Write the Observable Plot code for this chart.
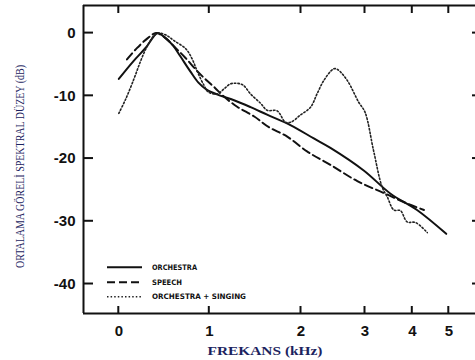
<!DOCTYPE html>
<html><head><meta charset="utf-8">
<script src="https://cdn.jsdelivr.net/npm/d3@7"></script>
<script src="https://cdn.jsdelivr.net/npm/@observablehq/plot@0.6"></script>
<style>body{margin:0;background:#fff}#chart{width:475px;height:360px;overflow:hidden}</style>
</head><body><div id="chart"></div>
<script>
// Tick values
const xTicks = [0, 1, 2, 3, 4, 5];
const yTicks = [-40, -30, -20, -10, 0];
const xLabel = "FREKANS (kHz)";
const yLabel = "ORTALAMA GÖRELİ SPEKTRAL DÜZEY (dB)";
const seriesNames = ["ORCHESTRA", "SPEECH", "ORCHESTRA + SINGING"];

// Series: [frequency kHz, level dB]
const orchestra = [[0,-7.3],[0.16,-4.5],[0.3,-2.3],[0.43,0],[0.5,-0.6],[0.6,-2.0],[0.68,-3.7],[0.79,-6.1],[0.88,-7.9],[0.97,-9.0],[1.09,-9.8],[1.27,-10.7],[1.45,-11.8],[1.63,-13.0],[1.89,-14.7],[2.2,-16.8],[2.46,-18.3],[2.98,-21.9],[3.54,-25.6],[4.13,-28.2],[4.93,-32.0]];
const speech = [[0.09,-4.2],[0.2,-2.4],[0.32,-0.8],[0.41,0],[0.5,-0.6],[0.63,-2.4],[0.74,-4.0],[0.85,-5.8],[0.96,-7.4],[1.06,-8.7],[1.15,-10.0],[1.3,-11.7],[1.49,-13.3],[1.65,-15.0],[1.85,-16.5],[2.1,-18.9],[2.46,-21.0],[2.88,-23.6],[3.4,-25.5],[3.9,-27.2],[4.32,-28.2]];
const orchSinging = [[0,-12.8],[0.08,-10.4],[0.17,-7.2],[0.24,-4.5],[0.31,-2.2],[0.39,-0.4],[0.44,0],[0.52,-0.3],[0.61,-1.2],[0.74,-2.5],[0.81,-4.1],[0.87,-6.2],[0.94,-8.3],[0.99,-9.4],[1.09,-9.7],[1.16,-8.9],[1.23,-8.1],[1.3,-8.0],[1.37,-8.3],[1.45,-9.7],[1.56,-11.2],[1.63,-12.3],[1.74,-12.4],[1.83,-14.2],[1.89,-14.2],[1.99,-13.1],[2.15,-11.8],[2.25,-9.7],[2.36,-7.5],[2.51,-5.7],[2.57,-5.8],[2.72,-7.5],[2.9,-11.0],[3.0,-12.6],[3.18,-18.7],[3.36,-24.5],[3.47,-26.1],[3.61,-28.2],[3.75,-28.3],[3.89,-30.1],[4.09,-30.2],[4.41,-31.8]];

// Non-uniform frequency axis (piecewise)
const xDomain = [-0.39, 0, 1, 2, 3, 4, 5, 5.81];
const xRange = [83, 118.3, 208.8, 300.5, 364.5, 411.8, 448.3, 478];
const yDomain = [-44.7, 4.4];

const W = 475, H = 360, ML = 83, MR = 0, MT = 5, MB = 47;

const lineStyle = {x: d => d[0], y: d => d[1], curve: "catmull-rom"};
const dotDash = "1.5,2.1";

const svg = Plot.plot({
  width: W, height: H,
  marginLeft: ML, marginRight: MR, marginTop: MT, marginBottom: MB,
  style: {fontFamily: "'Liberation Sans', Arial, sans-serif", fontSize: "15px", fontWeight: "bold", background: "#fff", color: "#111"},
  x: {type: "linear", domain: xDomain, range: xRange, label: null},
  y: {domain: yDomain, label: null},
  marks: [
    Plot.axisX({anchor: "bottom", ticks: xTicks, tickSize: 0, tickPadding: 12, tickFormat: d => String(d), label: null}),
    Plot.axisY({anchor: "left", ticks: yTicks, tickSize: 0, tickPadding: 8, tickFormat: d => String(d), label: null}),
    // frame
    Plot.ruleY([yDomain[0], yDomain[1]], {stroke: "#111", strokeWidth: 2}),
    Plot.ruleX([xDomain[0]], {stroke: "#111", strokeWidth: 2}),
    Plot.line(orchestra, {...lineStyle, stroke: "#111", strokeWidth: 2}),
    Plot.line(speech, {...lineStyle, stroke: "#111", strokeWidth: 2, strokeDasharray: "8,4"}),
    Plot.line(orchSinging, {...lineStyle, stroke: "#222", strokeWidth: 1.6, strokeDasharray: dotDash})
  ]
});

const s = d3.select(svg);
// Inward tick marks placed with the plot's own scales
const sxObj = svg.scale && svg.scale("x");
const syObj = svg.scale && svg.scale("y");
const sx = sxObj && sxObj.apply ? sxObj.apply : d3.scaleLinear(xDomain, xRange);
const sy = syObj && syObj.apply ? syObj.apply : d3.scaleLinear(yDomain, [H - MB, MT]);
const xLeft = sx(xDomain[0]), xRight = sx(xDomain[xDomain.length - 1]);
const yBottom = sy(yDomain[0]), yTop = sy(yDomain[1]);
const tg = s.append("g").attr("stroke", "#111").attr("stroke-width", 2);
xTicks.forEach(t => {
  const x = sx(t);
  tg.append("line").attr("x1", x).attr("x2", x).attr("y1", yBottom).attr("y2", yBottom - 7);
  tg.append("line").attr("x1", x).attr("x2", x).attr("y1", yTop).attr("y2", yTop + 8);
});
yTicks.forEach(t => {
  const y = sy(t);
  tg.append("line").attr("x1", xLeft).attr("x2", xLeft + 10).attr("y1", y).attr("y2", y);
  tg.append("line").attr("x1", xRight).attr("x2", xRight - 6).attr("y1", y).attr("y2", y);
});

// Axis titles
s.append("text")
  .attr("transform", "translate(20,166.5) rotate(-90)")
  .attr("text-anchor", "middle").attr("dominant-baseline", "central")
  .attr("font-family", "'Liberation Serif', 'DejaVu Serif', serif")
  .attr("font-size", 12).attr("font-weight", "normal")
  .attr("fill", "#1c2360")
  .attr("textLength", 203).attr("lengthAdjust", "spacingAndGlyphs")
  .text(yLabel);
s.append("text")
  .attr("x", 265).attr("y", 350)
  .attr("text-anchor", "middle").attr("dominant-baseline", "central")
  .attr("font-family", "'Liberation Serif', 'DejaVu Serif', serif")
  .attr("font-size", 13).attr("font-weight", "bold")
  .attr("fill", "#1c2360")
  .attr("textLength", 115).attr("lengthAdjust", "spacingAndGlyphs")
  .text(xLabel);

// Legend
const legendDash = [null, "8,4", dotDash];
const legendWidth = [2, 2, 1.6];
const legendLen = [45, 30, 94];
const legendY = [267.3, 282.3, 296.7];
seriesNames.forEach((name, i) => {
  s.append("line").attr("x1", 107).attr("x2", 142).attr("y1", legendY[i]).attr("y2", legendY[i])
    .attr("stroke", i === 2 ? "#222" : "#111").attr("stroke-width", legendWidth[i])
    .attr("stroke-dasharray", legendDash[i]);
  s.append("text").attr("x", 152).attr("y", legendY[i])
    .attr("text-anchor", "start").attr("dominant-baseline", "central")
    .attr("font-family", "'DejaVu Sans', sans-serif")
    .attr("font-size", 7.5).attr("font-weight", "bold").attr("fill", "#111")
    .attr("textLength", legendLen[i]).attr("lengthAdjust", "spacingAndGlyphs")
    .text(name);
});

document.getElementById("chart").appendChild(svg);
</script>
</body></html>
